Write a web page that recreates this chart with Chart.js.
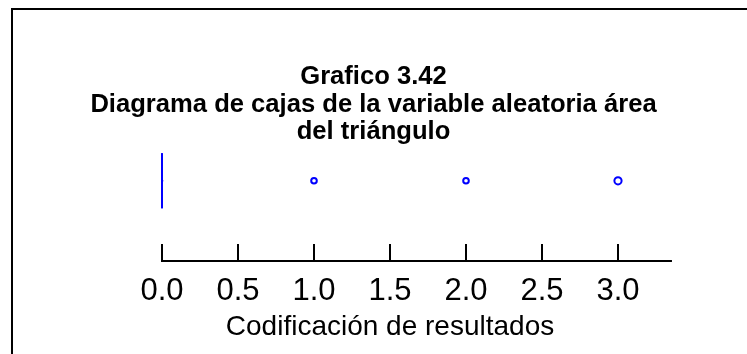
<!DOCTYPE html>
<html>
<head>
<meta charset="utf-8">
<script src="https://cdn.jsdelivr.net/npm/chart.js@4.4.1/dist/chart.umd.min.js"></script>
<style>
  html, body { margin: 0; padding: 0; background: #fff; overflow: hidden; }
  #wrap { position: relative; width: 747px; height: 354px; overflow: hidden; }
  #frame { position: absolute; left: 11px; top: 8px; width: 800px; height: 400px; border: 2px solid #000; box-sizing: border-box; }
  #mainChart { position: absolute; left: 0; top: 0; }
</style>
</head>
<body>
<div id="wrap">
  <div id="frame"></div>
  <canvas id="mainChart" width="747" height="354"></canvas>
</div>
<script>
// box statistics: min, q1, median, q3, max (whiskers without outliers)
const boxStats = [0, 0, 0, 0, 0];
// outlying values shown as circles
const outliers = [1, 2, 3];
const xTicks = [0, 0.5, 1, 1.5, 2, 2.5, 3];
const titleLines = ['Grafico 3.42', 'Diagrama de cajas de la variable aleatoria área', 'del triángulo'];
const xAxisTitle = 'Codificación de resultados';

const BLUE = '#0000ff';
const AXIS_END = 3.355;   // axis line runs a bit past the last tick
const FONT = '"Liberation Sans", Arial, sans-serif';

const boxPlugin = {
  id: 'boxPlot',
  afterDatasetsDraw(chart) {
    const { ctx, scales: { x, y } } = chart;
    const [mn, q1, med, q3, mx] = boxStats;
    const cy = y.getPixelForValue(0);
    const half = 27.5;
    ctx.save();
    ctx.strokeStyle = BLUE;
    ctx.lineWidth = 2;
    // box
    const x1 = x.getPixelForValue(q1), x3 = x.getPixelForValue(q3);
    ctx.strokeRect(x1, cy - half, x3 - x1, half * 2);
    // median
    const xm = x.getPixelForValue(med);
    ctx.beginPath();
    ctx.moveTo(xm, cy - half);
    ctx.lineTo(xm, cy + half);
    ctx.stroke();
    // whiskers
    ctx.lineWidth = 1.5;
    ctx.lineCap = 'square';
    ctx.beginPath();
    ctx.moveTo(x.getPixelForValue(mn), cy);
    ctx.lineTo(x1, cy);
    ctx.moveTo(x3, cy);
    ctx.lineTo(x.getPixelForValue(mx) + 0.5, cy);
    ctx.stroke();
    ctx.restore();
  },
  afterDraw(chart) {
    // x axis line with upward ticks
    const { ctx, scales: { x } } = chart;
    const yb = x.top;
    ctx.save();
    ctx.strokeStyle = '#000';
    ctx.lineWidth = 2;
    ctx.beginPath();
    ctx.moveTo(x.getPixelForValue(0) - 1, yb);
    ctx.lineTo(x.getPixelForValue(AXIS_END), yb);
    xTicks.forEach(v => {
      const px = x.getPixelForValue(v);
      ctx.moveTo(px, yb);
      ctx.lineTo(px, yb - 17);
    });
    ctx.stroke();
    ctx.restore();
  }
};

const spacerAxis = (position, width) => ({
  position,
  display: true,
  min: -2.3,
  max: 1,
  grid: { display: false, drawTicks: false },
  border: { display: false },
  ticks: { display: false },
  afterFit: s => { s.width = width; }
});

new Chart(document.getElementById('mainChart').getContext('2d'), {
  type: 'scatter',
  data: {
    datasets: [{
      label: 'Atípicos',
      data: outliers.map(v => ({ x: v, y: 0 })),
      pointStyle: 'circle',
      pointRadius: [2.8, 2.8, 3.6],
      pointBorderWidth: 2,
      borderColor: BLUE,
      backgroundColor: '#fff',
      clip: false
    }]
  },
  plugins: [boxPlugin],
  options: {
    responsive: false,
    animation: false,
    layout: { padding: { left: 0, right: 0, top: 0, bottom: 10 } },
    plugins: {
      legend: { display: false },
      tooltip: { enabled: false },
      title: {
        display: true,
        text: titleLines,
        color: '#000',
        font: { family: FONT, size: 25.6, weight: 'bold', lineHeight: 1.08 },
        padding: { top: 63, bottom: 0 }
      }
    },
    scales: {
      x: {
        type: 'linear',
        min: 0,
        max: 3,
        afterBuildTicks: s => { s.ticks = xTicks.map(v => ({ value: v })); },
        grid: { display: false, drawTicks: false },
        border: { display: false },
        ticks: {
          color: '#000',
          padding: 15.5,
          font: { family: FONT, size: 31, lineHeight: 1.0 },
          callback: v => Number(v).toFixed(1)
        },
        title: {
          display: true,
          text: xAxisTitle,
          color: '#000',
          padding: { top: -12.5, bottom: 0 },
          font: { family: FONT, size: 28 }
        }
      },
      y: spacerAxis('left', 162),
      y2: spacerAxis('right', 129)
    }
  }
});
</script>
</body>
</html>
